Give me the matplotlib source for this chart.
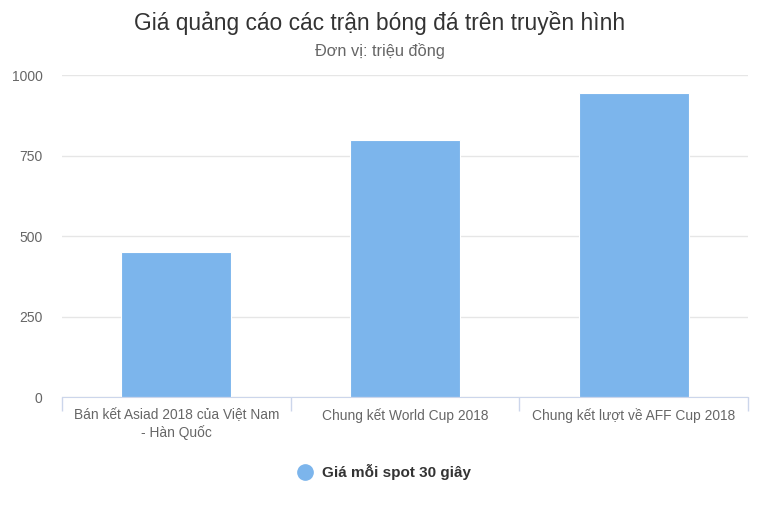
import matplotlib
matplotlib.use("Agg")
import matplotlib.pyplot as plt
from matplotlib.lines import Line2D

plt.rcParams['font.family'] = ['Liberation Sans', 'DejaVu Sans']

categories = ["Bán kết Asiad 2018 của Việt Nam\n- Hàn Quốc", "Chung kết World Cup 2018", "Chung kết lượt về AFF Cup 2018"]
values = [450, 800, 945]
yticks = [0, 250, 500, 750, 1000]
series_name = "Giá mỗi spot 30 giây"
title = "Giá quảng cáo các trận bóng đá trên truyền hình"
subtitle = "Đơn vị: triệu đồng"

fig = plt.figure(figsize=(7.6, 5.07), dpi=100)
ax = fig.add_axes([62/760, 1-397.3/507, (748-62)/760, (397.3-75.3)/507])

x = list(range(len(categories)))
ax.bar(x, values, width=0.48, color="#7cb5ec", edgecolor="white", linewidth=0.8, zorder=3)
ax.set_xlim(-0.5, len(categories)-0.5)
ax.set_ylim(0, 1000)
ax.set_yticks(yticks)
ax.set_yticklabels([str(t) for t in yticks], color="#666666", fontsize=10)
ax.grid(axis='y', color="#e6e6e6", linewidth=1, zorder=0)
ax.tick_params(axis='y', length=0, pad=14)
for s in ['top', 'right', 'left']:
    ax.spines[s].set_visible(False)
ax.spines['bottom'].set_color("#ccd6eb")
ax.spines['bottom'].set_zorder(4)

ax.set_xticks(x)
ax.set_xticklabels(categories, color="#666666", fontsize=9.9, linespacing=1.25)
ax.tick_params(axis='x', length=0, pad=8)
ax.set_xticks([i - 0.5 for i in range(len(categories)+1)], minor=True)
ax.tick_params(axis='x', which='minor', length=10, color="#ccd6eb", width=1)

fig.text(0.5, 1-23/507, title, ha='center', va='center', fontsize=16.4, color="#333333")
fig.text(0.5, 1-51/507, subtitle, ha='center', va='center', fontsize=11.8, color="#666666")

handle = Line2D([], [], marker='o', linestyle='none', markersize=11, markerfacecolor="#7cb5ec", markeredgecolor="#7cb5ec")
leg = fig.legend([handle], [series_name], loc='center', bbox_to_anchor=(0.505, 1-472/507), frameon=False,
                 prop={'weight': 'bold', 'size': 11}, handletextpad=0.6, handlelength=1.0)
for t in leg.get_texts():
    t.set_color("#333333")

fig.savefig("out.png", dpi=100)
